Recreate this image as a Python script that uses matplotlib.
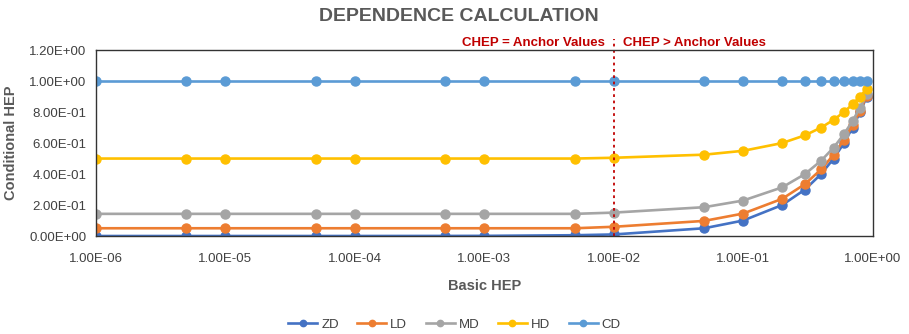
import matplotlib
matplotlib.use('Agg')
import matplotlib.pyplot as plt
from matplotlib import font_manager

# pick a narrow font if there is one, Calibri-ish look
names = {f.name for f in font_manager.fontManager.ttflist}
fam = 'Liberation Sans Narrow' if 'Liberation Sans Narrow' in names else 'Liberation Sans'
plt.rcParams['font.family'] = [fam, 'DejaVu Sans']

# basic HEP values (x)
bhep = [1e-6, 5e-6, 1e-5, 5e-5, 1e-4, 5e-4, 1e-3, 5e-3, 1e-2, 5e-2,
        0.1, 0.2, 0.3, 0.4, 0.5, 0.6, 0.7, 0.8, 0.9]

# conditional HEP
zd = [1e-6, 5e-6, 1e-5, 5e-5, 1e-4, 5e-4, 1e-3, 5e-3, 0.01, 0.05,
      0.1, 0.2, 0.3, 0.4, 0.5, 0.6, 0.7, 0.8, 0.9]
ld = [0.05, 0.05, 0.05, 0.05, 0.05, 0.05, 0.05, 0.05, 0.0595, 0.0975,
      0.145, 0.24, 0.335, 0.43, 0.525, 0.62, 0.715, 0.81, 0.905]
md = [0.143, 0.143, 0.143, 0.143, 0.143, 0.143, 0.143, 0.143, 0.151, 0.186,
      0.229, 0.314, 0.40, 0.486, 0.571, 0.657, 0.743, 0.829, 0.914]
hd = [0.5, 0.5, 0.5, 0.5, 0.5, 0.5, 0.5, 0.5, 0.505, 0.525,
      0.55, 0.6, 0.65, 0.7, 0.75, 0.8, 0.85, 0.9, 0.95]
cd = [1.0] * 19

series = [('ZD', zd, '#4472C4'), ('LD', ld, '#ED7D31'), ('MD', md, '#A5A5A5'),
          ('HD', hd, '#FFC000'), ('CD', cd, '#5B9BD5')]

yticks = [0.0, 0.2, 0.4, 0.6, 0.8, 1.0, 1.2]
xticks = [1e-6, 1e-5, 1e-4, 1e-3, 1e-2, 1e-1, 1e0]

fig = plt.figure(figsize=(9.09, 3.34), dpi=100)
ax = fig.add_axes([0.1056, 0.2934, 0.8544, 0.5566])

for name, vals, col in series:
    ax.plot(bhep, vals, color=col, lw=1.9, marker='o', ms=6.5, label=name)

ax.set_xscale('log')
ax.set_xlim(1e-6, 1.0)
ax.set_ylim(0, 1.2)
ax.set_xticks(xticks)
ax.set_xticklabels(['%.2E' % v for v in xticks])
ax.set_yticks(yticks)
ax.set_yticklabels(['%.2E' % v for v in yticks])
ax.minorticks_off()
ax.tick_params(length=0, labelsize=9.5, labelcolor='#404040', pad=7)
ax.tick_params(axis='x', pad=12)
for s in ax.spines.values():
    s.set_color('#333333')
    s.set_linewidth(1.0)

ax.set_xlabel('Basic HEP', fontsize=10.5, fontweight='bold', color='#595959', labelpad=10)
ax.set_ylabel('Conditional HEP', fontsize=10.5, fontweight='bold', color='#595959', labelpad=8)
fig.text(0.505, 0.95, 'DEPENDENCE CALCULATION', ha='center', va='center',
         fontsize=14, fontweight='bold', color='#595959')

# anchor boundary
ax.axvline(1e-2, ymin=0, ymax=1.06, color='#C00000', ls=(0, (1.5, 2)), lw=1.3, clip_on=False)
ax.text(0.0085, 1.245, 'CHEP = Anchor Values', ha='right', va='center',
        fontsize=9.5, fontweight='bold', color='#C00000')
ax.text(0.0118, 1.245, 'CHEP > Anchor Values', ha='left', va='center',
        fontsize=9.5, fontweight='bold', color='#C00000')

leg = fig.legend(loc='center', bbox_to_anchor=(0.5, 0.027), ncol=5, frameon=False,
                 fontsize=9.5, handlelength=2.2, markerscale=0.7, columnspacing=1.4,
                 handletextpad=0.3)
for t in leg.get_texts():
    t.set_color('#404040')

fig.savefig('out.png', dpi=100)
